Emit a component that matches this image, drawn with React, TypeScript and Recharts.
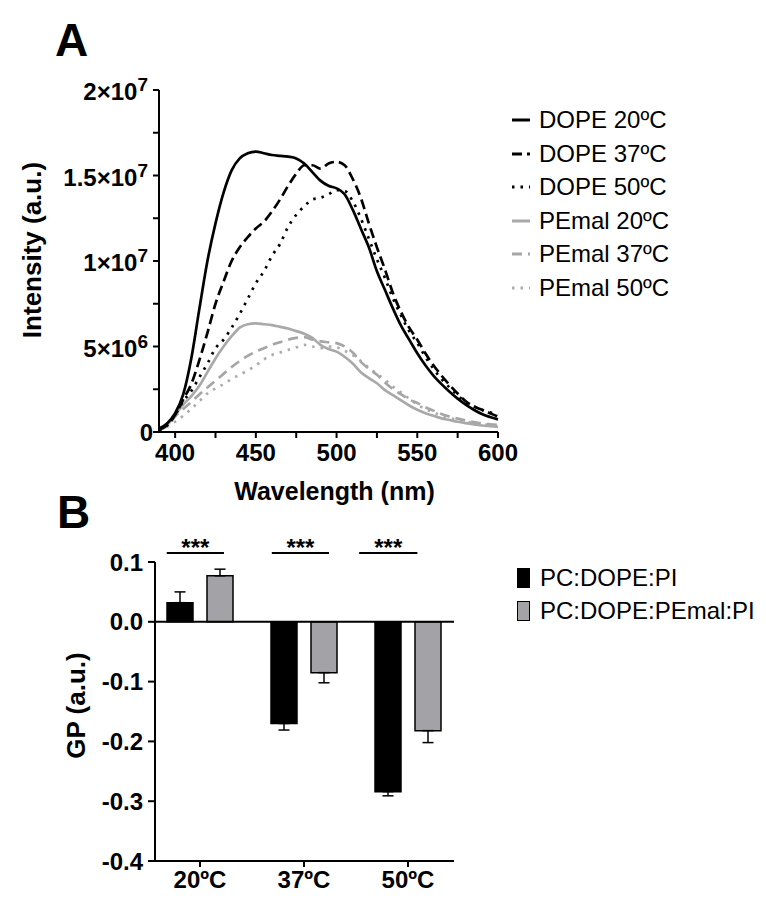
import React from "react";
import { Bar, BarChart, ErrorBar, Line, LineChart, ReferenceLine, XAxis, YAxis } from "recharts";

const FONT = "'Liberation Sans', Arial, Helvetica, sans-serif";

// ---- panel A: emission spectra (intensity in units of 1e6) ----
const wavelengths = [
  390, 395, 400, 405, 410, 415, 420, 425, 430, 435, 440, 445, 450, 455, 460, 465, 470, 475, 480, 485, 490, 495,
  500, 505, 510, 515, 520, 525, 530, 535, 540, 545, 550, 555, 560, 565, 570, 575, 580, 585, 590, 595, 600,
];
const dope20 = [
  0.2, 0.5, 1.1, 2.2, 4.3, 7.2, 10.0, 12.2, 14.0, 15.3, 16.0, 16.3, 16.4, 16.3, 16.2, 16.15, 16.1, 16.0, 15.7, 15.2,
  14.7, 14.4, 14.25, 13.9, 13.0, 11.9, 10.8, 9.4, 8.3, 7.2, 6.2, 5.4, 4.6, 3.9, 3.3, 2.8, 2.35, 1.95, 1.6, 1.3, 1.05,
  0.88, 0.74,
];
const dope37 = [
  0.15, 0.4, 1.0, 1.9, 2.8, 4.2, 5.8, 7.5, 8.8, 10.0, 10.8, 11.4, 11.9, 12.3, 12.9, 13.6, 14.4, 15.1, 15.6, 15.6,
  15.4, 15.7, 15.8, 15.6, 14.8, 13.7, 12.2, 10.8, 9.5, 8.1, 7.0, 6.1, 5.4, 4.6, 3.9, 3.3, 2.75, 2.25, 1.8, 1.5, 1.3,
  1.1, 0.9,
];
const dope50 = [
  0.1, 0.4, 1.0, 1.8, 2.4, 3.2, 4.0, 4.9, 5.4, 6.1, 6.9, 7.8, 8.7, 9.4, 10.3, 11.0, 12.0, 12.7, 13.2, 13.6, 13.7,
  13.9, 14.15, 14.1, 13.5, 12.5, 11.3, 10.1, 9.0, 7.8, 6.8, 5.9, 5.2, 4.4, 3.7, 3.1, 2.6, 2.15, 1.75, 1.5, 1.3, 1.15,
  1.0,
];
const pemal20 = [
  0.15, 0.4, 1.0, 1.6, 2.1, 2.7, 3.5, 4.3, 5.0, 5.6, 6.1, 6.3, 6.35, 6.3, 6.25, 6.15, 6.05, 5.9, 5.75, 5.5, 5.1,
  4.85, 4.7, 4.4, 4.0, 3.5, 3.15, 2.85, 2.45, 2.15, 1.85, 1.55, 1.3, 1.1, 0.95, 0.8, 0.7, 0.6, 0.52, 0.45, 0.38,
  0.34, 0.3,
];
const pemal37 = [
  0.1, 0.35, 0.9, 1.35, 1.75, 2.2, 2.6, 3.0, 3.4, 3.8, 4.15, 4.45, 4.7, 4.9, 5.1, 5.25, 5.4, 5.5, 5.55, 5.4, 5.3,
  5.25, 5.2, 5.0, 4.65, 4.1, 3.7, 3.35, 2.9, 2.5, 2.2, 1.9, 1.7, 1.45, 1.25, 1.05, 0.9, 0.78, 0.68, 0.58, 0.5, 0.45,
  0.41,
];
const pemal50 = [
  0.1, 0.3, 0.6, 0.95, 1.35, 1.8, 2.25, 2.55, 2.8, 3.1, 3.35, 3.6, 3.9, 4.25, 4.5, 4.65, 4.8, 4.95, 5.1, 5.0, 4.9,
  5.0, 4.95, 4.75, 4.5, 4.15, 3.75, 3.4, 3.05, 2.65, 2.3, 1.95, 1.6, 1.35, 1.15, 0.95, 0.82, 0.7, 0.6, 0.52, 0.45,
  0.4, 0.35,
];
const wavelengthTicks = [400, 425, 450, 475, 500, 525, 550, 575, 600];
const wavelengthLabels = [400, 450, 500, 550, 600];
const intensityTicks = [0, 2.5e6, 5e6, 7.5e6, 1e7, 1.25e7, 1.5e7, 1.75e7, 2e7];
const intensityLabels = [0, 5e6, 1e7, 1.5e7, 2e7];

const spectra = [
  { key: "pemal50", name: "PEmal 50ºC", values: pemal50, color: "#ababab", dash: "2.5 6" },
  { key: "pemal37", name: "PEmal 37ºC", values: pemal37, color: "#a6a6a6", dash: "10 6" },
  { key: "pemal20", name: "PEmal 20ºC", values: pemal20, color: "#a9a9a9", dash: undefined },
  { key: "dope50", name: "DOPE 50ºC", values: dope50, color: "#000", dash: "2.5 6" },
  { key: "dope37", name: "DOPE 37ºC", values: dope37, color: "#000", dash: "10 5" },
  { key: "dope20", name: "DOPE 20ºC", values: dope20, color: "#000", dash: undefined },
];
const legendOrder = ["dope20", "dope37", "dope50", "pemal20", "pemal37", "pemal50"];

const spectraRows = wavelengths.map((wl, i) => {
  const row: Record<string, number> = { wl };
  spectra.forEach((s) => (row[s.key] = s.values[i] * 1e6));
  return row;
});

// ---- panel B: generalized polarization ----
const temps = ["20ºC", "37ºC", "50ºC"];
const groupPos = [1, 2, 3];
const gpPI = [0.032, -0.17, -0.284];
const gpPIErr = [0.018, 0.011, 0.007];
const gpPEmal = [0.077, -0.085, -0.182];
const gpPEmalErr = [0.011, 0.017, 0.02];
const gpTicks = [0.1, 0, -0.1, -0.2, -0.3, -0.4];
// significance bars, in group units (1 = first group centre)
const sigFrom = [0.68, 1.69, 2.53];
const sigTo = [1.23, 2.24, 3.09];
const sigLevel = 0.115;

const gpRows = temps.map((temp, i) => ({
  temp,
  pos: groupPos[i],
  pi: gpPI[i],
  piErr: gpPI[i] >= 0 ? [0, gpPIErr[i]] : [gpPIErr[i], 0],
  pemal: gpPEmal[i],
  pemalErr: gpPEmal[i] >= 0 ? [0, gpPEmalErr[i]] : [gpPEmalErr[i], 0],
}));

const bold = { fontFamily: FONT, fontWeight: 700, fill: "#000" };

function WavelengthTick({ x, y, payload }: any) {
  const v = payload.value;
  return (
    <g>
      <line x1={x} x2={x} y1={y} y2={y + 6} stroke="#000" strokeWidth={2} />
      {wavelengthLabels.includes(v) && (
        <text x={x} y={y + 29} textAnchor="middle" fontSize={24} {...bold}>
          {v}
        </text>
      )}
    </g>
  );
}

function IntensityTick({ x, y, payload }: any) {
  const v = payload.value;
  let label: React.ReactNode = null;
  if (intensityLabels.includes(v)) {
    if (v === 0) {
      label = (
        <text x={x - 6} y={y + 9} textAnchor="end" fontSize={24} {...bold}>
          0
        </text>
      );
    } else {
      const exp = Math.floor(Math.log10(v));
      const mant = Math.round((v / Math.pow(10, exp)) * 10) / 10;
      label = (
        <text x={x - 11} y={y + 10} textAnchor="end" fontSize={24} {...bold}>
          <tspan>{mant}×10</tspan>
          <tspan dy={-9} fontSize={19}>
            {exp}
          </tspan>
        </text>
      );
    }
  }
  return (
    <g>
      <line x1={x - 6} x2={x} y1={y} y2={y} stroke="#000" strokeWidth={2} />
      {label}
    </g>
  );
}

function TempTick({ x, y, payload }: any) {
  return (
    <g>
      <line x1={x} x2={x} y1={y} y2={y + 6} stroke="#000" strokeWidth={2} />
      <text x={x} y={y + 27} textAnchor="middle" fontSize={24} {...bold}>
        {payload.value}
      </text>
    </g>
  );
}

function GpTick({ x, y, payload }: any) {
  return (
    <g>
      <line x1={x - 7} x2={x} y1={y} y2={y} stroke="#000" strokeWidth={2} />
      <text x={x - 12} y={y + 8.5} textAnchor="end" fontSize={24} {...bold}>
        {payload.value.toFixed(1)}
      </text>
    </g>
  );
}

function VerticalTitle({ cx, cy, text }: { cx: number; cy: number; text: string }) {
  return (
    <text
      x={cx}
      y={cy}
      transform={`rotate(-90 ${cx} ${cy})`}
      textAnchor="middle"
      dominantBaseline="central"
      fontSize={26}
      {...bold}
    >
      {text}
    </text>
  );
}

export default function App() {
  const legendA = legendOrder.map((k) => spectra.find((s) => s.key === k)!);
  return (
    <div style={{ position: "absolute", left: 0, top: 0, width: 766, height: 906, background: "#fff", overflow: "hidden" }}>
      <div style={{ position: "absolute", left: 55, top: 12, fontFamily: FONT, fontWeight: 700, fontSize: 46, lineHeight: "56px" }}>A</div>
      <div style={{ position: "absolute", left: 57, top: 484, fontFamily: FONT, fontWeight: 700, fontSize: 46, lineHeight: "56px" }}>B</div>

      <div style={{ position: "absolute", left: 0, top: 0 }}>
        <LineChart width={766} height={510} data={spectraRows} margin={{ top: 90, right: 268, bottom: 0, left: 0 }}>
          <XAxis
            dataKey="wl"
            type="number"
            domain={[390, 600]}
            ticks={wavelengthTicks}
            interval={0}
            height={78}
            tick={<WavelengthTick />}
            tickLine={false}
            tickSize={0}
            tickMargin={0}
            axisLine={{ stroke: "#000", strokeWidth: 2 }}
            label={{
              content: (p: any) => (
                <text x={p.viewBox.x + p.viewBox.width / 2 + 6} y={p.viewBox.y + 68} textAnchor="middle" fontSize={25} {...bold}>
                  Wavelength (nm)
                </text>
              ),
            }}
          />
          <YAxis
            type="number"
            domain={[0, 2e7]}
            ticks={intensityTicks}
            interval={0}
            width={159}
            tick={<IntensityTick />}
            tickLine={false}
            tickSize={0}
            tickMargin={0}
            axisLine={{ stroke: "#000", strokeWidth: 2 }}
            label={{
              content: (p: any) => (
                <VerticalTitle cx={p.viewBox.x + 32} cy={p.viewBox.y + p.viewBox.height / 2 - 11} text="Intensity (a.u.)" />
              ),
            }}
          />
          {spectra.map((s) => (
            <Line
              key={s.key}
              dataKey={s.key}
              type="monotone"
              stroke={s.color}
              strokeWidth={2.7}
              strokeDasharray={s.dash}
              dot={false}
              activeDot={false}
              isAnimationActive={false}
            />
          ))}
        </LineChart>
      </div>

      {legendA.map((s, i) => (
        <div key={s.key} style={{ position: "absolute", left: 510, top: 120 + i * 33.5 - 14, height: 28, display: "flex", alignItems: "center" }}>
          <svg width={22} height={28}>
            <line x1={2} x2={20} y1={14} y2={14} stroke={s.color} strokeWidth={3} strokeDasharray={s.dash} />
          </svg>
          <span style={{ marginLeft: 7, fontFamily: FONT, fontSize: 24, color: "#000", whiteSpace: "nowrap" }}>{s.name}</span>
        </div>
      ))}

      <div style={{ position: "absolute", left: 0, top: 500 }}>
        <BarChart width={766} height={406} data={gpRows} margin={{ top: 62, right: 312, bottom: 0, left: 0 }} barSize={26} barGap={14}>
          <XAxis
            dataKey="temp"
            height={45}
            padding={{ left: -7, right: -6 }}
            interval={0}
            tick={<TempTick />}
            tickLine={false}
            tickSize={0}
            tickMargin={0}
            axisLine={{ stroke: "#000", strokeWidth: 2 }}
          />
          <XAxis xAxisId="sig" dataKey="pos" type="number" domain={[0.567, 3.442]} allowDataOverflow hide />
          <YAxis
            type="number"
            domain={[-0.4, 0.1]}
            ticks={gpTicks}
            interval={0}
            width={155}
            allowDataOverflow
            tick={<GpTick />}
            tickLine={false}
            tickSize={0}
            tickMargin={0}
            axisLine={{ stroke: "#000", strokeWidth: 2 }}
            label={{
              content: (p: any) => <VerticalTitle cx={p.viewBox.x + 76} cy={p.viewBox.y + p.viewBox.height / 2 - 6} text="GP (a.u.)" />,
            }}
          />
          <ReferenceLine y={0} stroke="#000" strokeWidth={2} />
          <Bar dataKey="pi" fill="#000" stroke="#000" strokeWidth={1.5} isAnimationActive={false}>
            <ErrorBar dataKey="piErr" width={5.5} stroke="#000" strokeWidth={1.5} direction="y" />
          </Bar>
          <Bar dataKey="pemal" fill="#a3a3a7" stroke="#000" strokeWidth={1.5} isAnimationActive={false}>
            <ErrorBar dataKey="pemalErr" width={5.5} stroke="#000" strokeWidth={1.5} direction="y" />
          </Bar>
          {sigFrom.map((from, i) => (
            <ReferenceLine
              key={i}
              xAxisId="sig"
              ifOverflow="visible"
              segment={[
                { x: from, y: sigLevel },
                { x: sigTo[i], y: sigLevel },
              ]}
              stroke="#000"
              strokeWidth={2}
              label={{
                content: (p: any) => (
                  <text x={p.viewBox.x + p.viewBox.width / 2} y={p.viewBox.y + 3} textAnchor="middle" fontSize={24} {...bold}>
                    ***
                  </text>
                ),
              }}
            />
          ))}
        </BarChart>
      </div>

      {[
        { name: "PC:DOPE:PI", fill: "#000" },
        { name: "PC:DOPE:PEmal:PI", fill: "#a3a3a7" },
      ].map((s, i) => (
        <div key={s.name} style={{ position: "absolute", left: 517, top: 578 + i * 33 - 14, height: 28, display: "flex", alignItems: "center" }}>
          <div style={{ width: 11, height: 18, background: s.fill, border: "1px solid #000" }} />
          <span style={{ marginLeft: 10, fontFamily: FONT, fontSize: 24, color: "#000", whiteSpace: "nowrap" }}>{s.name}</span>
        </div>
      ))}
    </div>
  );
}
